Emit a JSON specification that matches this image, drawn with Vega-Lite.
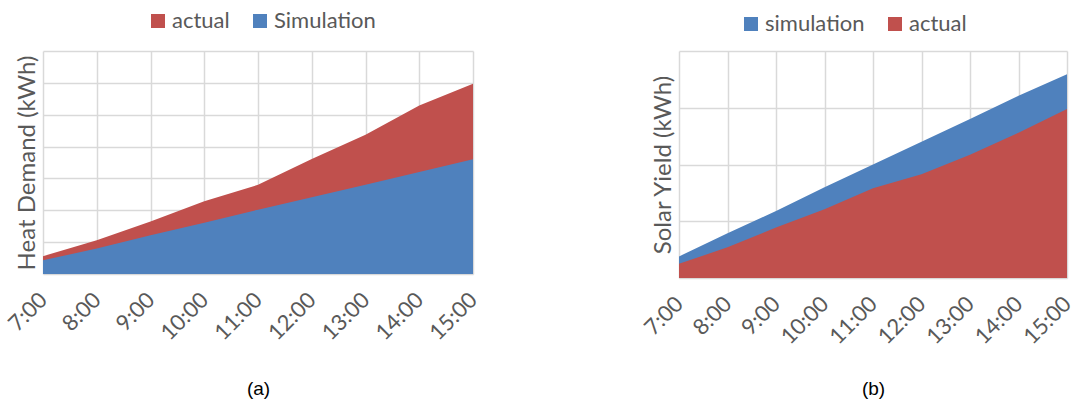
{
  "$schema": "https://vega.github.io/schema/vega-lite/v6.json",
  "background": "white",
  "padding": {"left": 4, "top": 10, "right": 0, "bottom": 0},
  "spacing": 159,
  "config": {
    "view": {"stroke": null},
    "font": "Lato",
    "axis": {"gridColor": "#D9D9D9", "gridWidth": 1.5, "domain": false, "ticks": false},
    "legend": {"labelFont": "Lato", "labelFontSize": 22, "labelColor": "#595959", "symbolType": "square", "symbolSize": 196, "symbolStrokeWidth": 0, "columnPadding": 19, "labelOffset": 3}
  },
  "datasets": {
    "heat": [
      {"time": "7:00", "actual": 0.56, "simulation": 0.43},
      {"time": "8:00", "actual": 1.06, "simulation": 0.80},
      {"time": "9:00", "actual": 1.65, "simulation": 1.22},
      {"time": "10:00", "actual": 2.28, "simulation": 1.61},
      {"time": "11:00", "actual": 2.80, "simulation": 2.02},
      {"time": "12:00", "actual": 3.61, "simulation": 2.41},
      {"time": "13:00", "actual": 4.37, "simulation": 2.80},
      {"time": "14:00", "actual": 5.29, "simulation": 3.20},
      {"time": "15:00", "actual": 5.97, "simulation": 3.60}
    ],
    "solar": [
      {"time": "7:00", "actual": 0.25, "simulation": 0.38},
      {"time": "8:00", "actual": 0.54, "simulation": 0.79},
      {"time": "9:00", "actual": 0.89, "simulation": 1.18},
      {"time": "10:00", "actual": 1.21, "simulation": 1.60},
      {"time": "11:00", "actual": 1.58, "simulation": 2.00},
      {"time": "12:00", "actual": 1.83, "simulation": 2.40},
      {"time": "13:00", "actual": 2.17, "simulation": 2.80},
      {"time": "14:00", "actual": 2.56, "simulation": 3.21},
      {"time": "15:00", "actual": 2.98, "simulation": 3.59}
    ]
  },
  "resolve": {"scale": {"color": "independent"}, "legend": {"color": "independent"}},
  "hconcat": [
    {
      "width": 430,
      "height": 223,
      "data": {"name": "heat"},
      "encoding": {
        "x": {
          "field": "time", "type": "ordinal",
          "sort": ["7:00","8:00","9:00","10:00","11:00","12:00","13:00","14:00","15:00"],
          "scale": {"type": "point", "padding": 0},
          "axis": {"title": "(a)", "titleFont": "Liberation Sans", "titleFontSize": 19, "titleFontWeight": "normal", "titleColor": "#000000", "titlePadding": 36, "labelAngle": -45, "labelAlign": "right", "labelBaseline": "middle", "labelFontSize": 22, "labelColor": "#595959", "labelPadding": 22, "grid": true}
        }
      },
      "layer": [
        {
          "mark": {"type": "area", "opacity": 1},
          "encoding": {
            "y": {"field": "actual", "type": "quantitative", "scale": {"domain": [0, 7], "nice": false},
              "axis": {"title": "Heat Demand (kWh)", "titleFontSize": 24, "titleFontWeight": "normal", "titleColor": "#595959", "titlePadding": 4, "labels": false, "values": [0,1,2,3,4,5,6,7], "grid": true}},
            "color": {"datum": "actual", "type": "nominal",
              "scale": {"domain": ["actual", "Simulation"], "range": ["#C0504D", "#4F81BD"]},
              "legend": {"title": null, "orient": "none", "direction": "horizontal", "legendX": 104, "legendY": -41}}
          }
        },
        {
          "mark": {"type": "area", "opacity": 1},
          "encoding": {
            "y": {"field": "simulation", "type": "quantitative",
              "axis": {"title": "Heat Demand (kWh)", "titleFontSize": 24, "titleFontWeight": "normal", "titleColor": "#595959", "titlePadding": 4, "labels": false, "values": [0,1,2,3,4,5,6,7], "grid": true}},
            "color": {"datum": "Simulation", "type": "nominal"}
          }
        }
      ]
    },
    {
      "width": 388,
      "height": 227,
      "data": {"name": "solar"},
      "encoding": {
        "x": {
          "field": "time", "type": "ordinal",
          "sort": ["7:00","8:00","9:00","10:00","11:00","12:00","13:00","14:00","15:00"],
          "scale": {"type": "point", "padding": 0},
          "axis": {"title": "(b)", "titleFont": "Liberation Sans", "titleFontSize": 19, "titleFontWeight": "normal", "titleColor": "#000000", "titlePadding": 32, "labelAngle": -45, "labelAlign": "right", "labelBaseline": "middle", "labelFontSize": 22, "labelColor": "#595959", "labelPadding": 22, "grid": true}
        }
      },
      "layer": [
        {
          "mark": {"type": "area", "opacity": 1},
          "encoding": {
            "y": {"field": "simulation", "type": "quantitative", "scale": {"domain": [0, 4], "nice": false},
              "axis": {"title": "Solar Yield (kWh)", "titleFontSize": 24, "titleFontWeight": "normal", "titleColor": "#595959", "titlePadding": 4, "labels": false, "values": [0,1,2,3,4], "grid": true}},
            "color": {"datum": "simulation", "type": "nominal",
              "scale": {"domain": ["simulation", "actual"], "range": ["#4F81BD", "#C0504D"]},
              "legend": {"title": null, "orient": "none", "direction": "horizontal", "legendX": 61, "legendY": -38}}
          }
        },
        {
          "mark": {"type": "area", "opacity": 1},
          "encoding": {
            "y": {"field": "actual", "type": "quantitative",
              "axis": {"title": "Solar Yield (kWh)", "titleFontSize": 24, "titleFontWeight": "normal", "titleColor": "#595959", "titlePadding": 4, "labels": false, "values": [0,1,2,3,4], "grid": true}},
            "color": {"datum": "actual", "type": "nominal"}
          }
        }
      ]
    }
  ]
}
